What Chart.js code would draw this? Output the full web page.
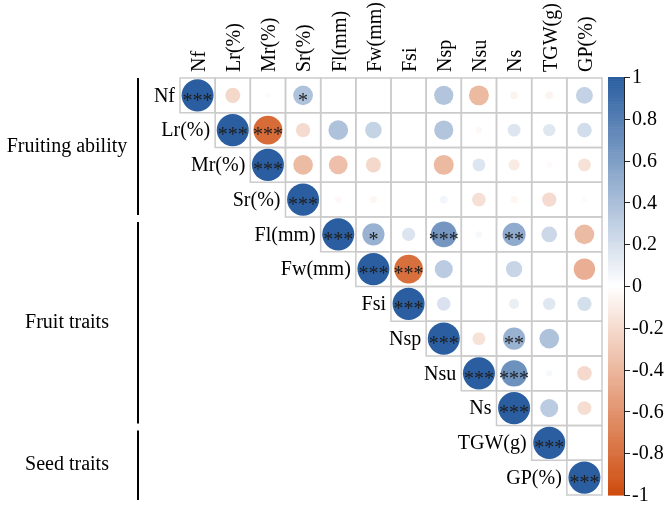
<!DOCTYPE html>
<html><head><meta charset="utf-8">
<script src="https://cdn.jsdelivr.net/npm/chart.js@4.4.1/dist/chart.umd.min.js"></script>
<style>html,body{margin:0;padding:0;background:#fff;}#wrap{width:669px;height:511px;position:relative;}</style>
</head><body><div id="wrap"><canvas id="c" width="669" height="511"></canvas></div>
<script>
// Trait names (rows and columns)
const traits = ['Nf','Lr(%)','Mr(%)','Sr(%)','Fl(mm)','Fw(mm)','Fsi','Nsp','Nsu','Ns','TGW(g)','GP(%)'];

// Upper-triangle correlations, each row starts at its diagonal cell
const corrNf  = [1, -0.22, -0.03, 0.38, 0, 0, 0, 0.36, -0.39, -0.06, -0.06, 0.28];
const corrLr  = [1, -0.82, -0.20, 0.38, 0.27, 0, 0.36, -0.04, 0.16, 0.15, 0.21];
const corrMr  = [1, -0.38, -0.35, -0.22, 0, -0.39, 0.16, -0.12, -0.03, -0.16];
const corrSr  = [1, -0.04, -0.05, 0, 0.06, -0.18, -0.05, -0.20, -0.03];
const corrFl  = [1, 0.48, 0.17, 0.65, 0.04, 0.52, 0.24, -0.38];
const corrFw  = [1, -0.80, 0.32, 0, 0.26, 0, -0.45];
const corrFsi = [1, 0.18, 0, 0.10, 0.15, 0.20];
const corrNsp = [1, -0.16, 0.48, 0.38, 0];
const corrNsu = [1, 0.68, 0.04, -0.21];
const corrNs  = [1, 0.32, -0.19];
const corrTGW = [1, 0];
const corrGP  = [1];

// Significance marks, same layout
const sigNf  = ['***','','','*','','','','','','','',''];
const sigLr  = ['***','***','','','','','','','','',''];
const sigMr  = ['***','','','','','','','','',''];
const sigSr  = ['***','','','','','','','',''];
const sigFl  = ['***','*','','***','','**','',''];
const sigFw  = ['***','***','','','','',''];
const sigFsi = ['***','','','','',''];
const sigNsp = ['***','','**','',''];
const sigNsu = ['***','***','',''];
const sigNs  = ['***','',''];
const sigTGW = ['***',''];
const sigGP  = ['***'];

const corrRows = [corrNf,corrLr,corrMr,corrSr,corrFl,corrFw,corrFsi,corrNsp,corrNsu,corrNs,corrTGW,corrGP];
const sigRows  = [sigNf,sigLr,sigMr,sigSr,sigFl,sigFw,sigFsi,sigNsp,sigNsu,sigNs,sigTGW,sigGP];

// Trait groups
const groupNames = ['Fruiting ability','Fruit traits','Seed traits'];
const groupFirst = [0, 4, 10];
const groupLast  = [3, 9, 11];

// Colour bar ticks
const barTicks = [1,0.8,0.6,0.4,0.2,0,-0.2,-0.4,-0.6,-0.8,-1];
const barTickLabels = ['1','0.8','0.6','0.4','0.2','0','-0.2','-0.4','-0.6','-0.8','-1'];

const HI = [42, 94, 160], LO = [206, 76, 14];
function corrRGB(v){
  const t = Math.min(1, Math.abs(v));
  const c = v >= 0 ? HI : LO;
  return [0,1,2].map(k => Math.round(255 + (c[k]-255)*t));
}
function corrColor(v){ const c = corrRGB(v); return `rgb(${c[0]},${c[1]},${c[2]})`; }

const points = [];
corrRows.forEach((row, i) => row.forEach((v, k) => {
  points.push({x: i + k, y: i, r: 0, v: v, s: sigRows[i][k]});
}));

const SERIF = '"Liberation Serif", "Times New Roman", serif';

function cellSize(chart){
  const xs = chart.scales.x, ys = chart.scales.y;
  return {w: Math.abs(xs.getPixelForValue(1) - xs.getPixelForValue(0)),
          h: Math.abs(ys.getPixelForValue(1) - ys.getPixelForValue(0))};
}

const gridPlugin = {
  id: 'grid',
  beforeDatasetsDraw(chart){
    const ctx = chart.ctx, xs = chart.scales.x, ys = chart.scales.y;
    const cs = cellSize(chart);
    ctx.save();
    ctx.strokeStyle = '#cbcbcb';
    ctx.lineWidth = 1.5;
    traits.forEach((_, i) => {
      for (let j = i; j < traits.length; j++) {
        const cx = xs.getPixelForValue(j), cy = ys.getPixelForValue(i);
        ctx.strokeRect(cx - cs.w/2, cy - cs.h/2, cs.w, cs.h);
      }
    });
    ctx.restore();
  },
  afterDatasetsDraw(chart){
    const ctx = chart.ctx, xs = chart.scales.x, ys = chart.scales.y, ca = chart.chartArea;
    const cs = cellSize(chart);
    ctx.save();
    // significance stars
    ctx.fillStyle = '#1e1e1e';
    ctx.font = '20px ' + SERIF;
    ctx.textAlign = 'center';
    ctx.textBaseline = 'middle';
    points.forEach(p => {
      if (p.s) ctx.fillText(p.s, xs.getPixelForValue(p.x), ys.getPixelForValue(p.y) + 6);
    });
    // column labels
    ctx.fillStyle = '#000';
    ctx.font = '20px ' + SERIF;
    traits.forEach((t, j) => {
      ctx.save();
      ctx.translate(xs.getPixelForValue(j) + 2, ca.top - 6);
      ctx.rotate(-Math.PI/2);
      ctx.textAlign = 'left';
      ctx.textBaseline = 'middle';
      ctx.fillText(t, 0, 0);
      ctx.restore();
    });
    // row labels
    ctx.textAlign = 'right';
    ctx.textBaseline = 'middle';
    traits.forEach((t, i) => {
      ctx.fillText(t, xs.getPixelForValue(i) - cs.w/2 - 5, ys.getPixelForValue(i) + 1);
    });
    // group labels and brackets
    const lineX = 138, labelX = 67;
    groupNames.forEach((g, k) => {
      const top = ys.getPixelForValue(groupFirst[k]) - cs.h/2;
      const bot = ys.getPixelForValue(groupLast[k]) + cs.h/2;
      const y0 = groupFirst[k] === 0 ? top : top + 5;
      const y1 = groupLast[k] === traits.length - 1 ? bot + 5 : bot - 2;
      ctx.strokeStyle = '#000';
      ctx.lineWidth = 2;
      ctx.beginPath(); ctx.moveTo(lineX, y0); ctx.lineTo(lineX, y1); ctx.stroke();
      ctx.textAlign = 'center';
      ctx.fillText(g, labelX, (y0 + y1)/2);
    });
    // colour bar
    const bx0 = ca.right + 6, bx1 = ca.right + 22;
    const by0 = ca.top - 1, by1 = ca.bottom;
    const steps = 200;
    for (let s = 0; s < steps; s++) {
      const v = 1 - 2*(s + 0.5)/steps;
      ctx.fillStyle = corrColor(v);
      const ya = by0 + (by1 - by0)*s/steps;
      ctx.fillRect(bx0, ya, bx1 - bx0, (by1 - by0)/steps + 0.6);
    }
    ctx.strokeStyle = '#222';
    ctx.lineWidth = 1;
    ctx.beginPath(); ctx.moveTo(bx1 + 0.5, by0); ctx.lineTo(bx1 + 0.5, by1); ctx.stroke();
    ctx.fillStyle = '#000';
    ctx.textAlign = 'left';
    ctx.textBaseline = 'middle';
    barTicks.forEach((v, k) => {
      const y = by0 + (1 - v)/2*(by1 - by0);
      ctx.beginPath(); ctx.moveTo(bx1, Math.round(y) + 0.5); ctx.lineTo(bx1 + 6, Math.round(y) + 0.5); ctx.stroke();
      ctx.fillText(barTickLabels[k], bx1 + 8, y + 1);
    });
    ctx.restore();
  }
};

const chart = new Chart(document.getElementById('c'), {
  type: 'bubble',
  data: {
    datasets: [{
      data: points,
      backgroundColor: c => corrColor(c.raw ? c.raw.v : 0),
      borderWidth: 0
    }]
  },
  options: {
    responsive: false,
    animation: false,
    events: [],
    layout: {padding: {left: 180, right: 67, top: 78, bottom: 11}},
    plugins: {legend: {display: false}, tooltip: {enabled: false}},
    scales: {
      x: {type: 'linear', min: -0.5, max: 11.5, display: false},
      y: {type: 'linear', min: -0.5, max: 11.5, reverse: true, display: false}
    }
  },
  plugins: [gridPlugin]
});

// circle radius: area proportional to |r|, sized from the laid-out scale
const cw = cellSize(chart).w;
points.forEach(p => { p.r = Math.sqrt(Math.abs(p.v)) * cw * 0.455; });
chart.update();
</script>
</body></html>
